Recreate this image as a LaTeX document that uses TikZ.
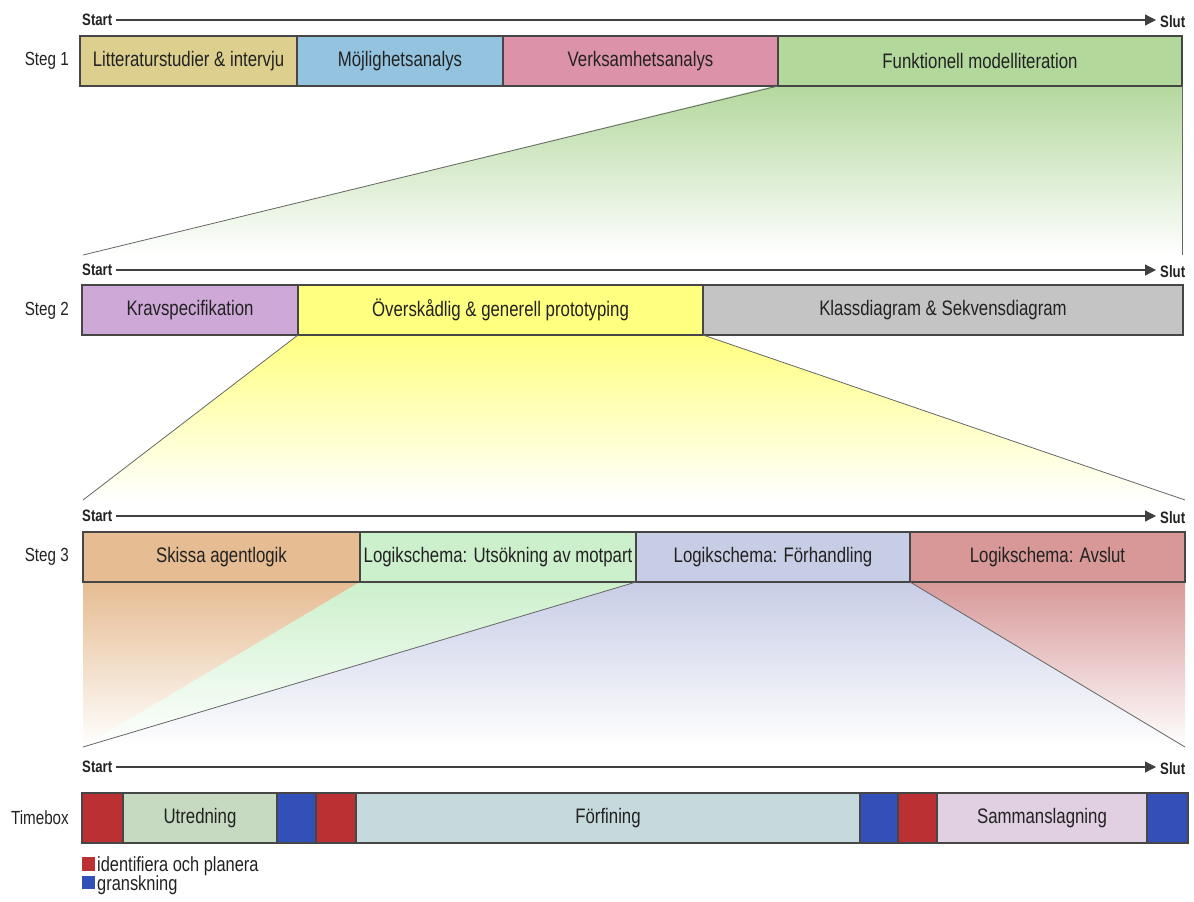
\documentclass[tikz,border=0pt]{standalone}
\usepackage{fontspec}
\setmainfont{Liberation Sans}[FakeStretch=0.8]
\usetikzlibrary{arrows.meta}
\definecolor{ctan}{RGB}{221,208,143}
\definecolor{cblue}{RGB}{147,195,222}
\definecolor{cpink}{RGB}{220,146,168}
\definecolor{cgreen}{RGB}{179,216,156}
\definecolor{cpurple}{RGB}{206,168,215}
\definecolor{cyellow}{RGB}{255,255,128}
\definecolor{cgray}{RGB}{196,196,196}
\definecolor{corange}{RGB}{230,188,146}
\definecolor{clgreen}{RGB}{204,240,204}
\definecolor{clav}{RGB}{200,205,230}
\definecolor{crose}{RGB}{216,152,152}
\definecolor{tbred}{RGB}{187,48,51}
\definecolor{tbblue}{RGB}{51,80,184}
\definecolor{cutr}{RGB}{198,218,194}
\definecolor{cforf}{RGB}{198,218,222}
\definecolor{csamm}{RGB}{224,208,226}
\definecolor{edge}{RGB}{70,70,70}
\definecolor{txt}{RGB}{34,34,34}
\begin{document}
\begin{tikzpicture}[x=1pt,y=-1pt,
  box/.style={draw=edge,line width=1.3pt,inner sep=0pt,outer sep=0pt,minimum height=50pt,anchor=west,text=txt,font=\fontsize{21}{24}\selectfont},
  steglbl/.style={anchor=east,inner sep=0pt,text=txt,font=\fontsize{19}{22}\selectfont},
  axlbl/.style={inner sep=0pt,text=txt,font=\fontsize{16.5}{18}\selectfont\bfseries},
  axis/.style={draw=black!75,line width=1.2pt,-{Triangle[length=11pt,width=11pt]}},
  funnel/.style={draw=black!60,line width=0.8pt},
  legtxt/.style={anchor=west,inner sep=0pt,text=txt,font=\fontsize{20.5}{22}\selectfont}
]
\useasboundingbox (0,0) rectangle (1194,902);

% ---------- funnels (drawn first) ----------
\coordinate (b1l) at (83,255);
\coordinate (b1r) at (1182,255);
\shade[top color=cgreen,bottom color=white] (778,85) -- (1182,85) -- (b1r) -- (b1l) -- cycle;
\coordinate (b2l) at (83,500);
\coordinate (b2r) at (1185,500);
\shade[top color=cyellow,bottom color=white] (298,335) -- (703,335) -- (b2r) -- (b2l) -- cycle;
\coordinate (b3l) at (83,747);
\coordinate (b3r) at (1185,747);
\shade[top color=corange,bottom color=white] (83,582) -- (360,582) -- (b3l) -- cycle;
\shade[top color=clgreen,bottom color=white] (360,582) -- (636,582) -- (b3l) -- cycle;
\shade[top color=clav,bottom color=white] (636,582) -- (910,582) -- (b3r) -- (b3l) -- cycle;
\shade[top color=crose,bottom color=white] (910,582) -- (1185,582) -- (b3r) -- cycle;

% ---------- axes ----------
\foreach \n/\y in {1/20,2/270,3/516,4/767}{
  \node[axlbl,anchor=west] (st\n) at (82,\y) {Start};
  \coordinate (ae\n) at (1156,\y);
  \node[axlbl,anchor=west] (sl\n) at (1160,\y+2) {Slut};
  \draw[axis] ([xshift=4pt]st\n.east) -- (ae\n);
}

% ---------- row 1 ----------
\node[steglbl] (lbl1) at (69,61) {Steg 1};
\node[box,fill=ctan,minimum width=217pt] (r1a) at (80,61) {Litteraturstudier \& intervju};
\node[box,fill=cblue,minimum width=206pt] (r1b) at (297,61) {Möjlighetsanalys};
\node[box,fill=cpink,minimum width=275pt] (r1c) at (503,61) {Verksamhetsanalys};
\node[box,fill=cgreen,minimum width=404pt] (r1d) at (778,61) {Funktionell modelliteration};
\draw[funnel] (r1d.south west) -- (b1l);
\draw[funnel] (r1d.south east) -- (b1r);

% ---------- row 2 ----------
\node[steglbl] (lbl2) at (69,311) {Steg 2};
\node[box,fill=cpurple,minimum width=216pt] (r2a) at (82,310) {Kravspecifikation};
\node[box,fill=cyellow,minimum width=405pt] (r2b) at (298,310) {Överskådlig \& generell prototyping};
\node[box,fill=cgray,minimum width=480pt] (r2c) at (703,310) {Klassdiagram \& Sekvensdiagram};
\draw[funnel] (r2b.south west) -- (b2l);
\draw[funnel] (r2b.south east) -- (b2r);

% ---------- row 3 ----------
\node[steglbl] (lbl3) at (69,557) {Steg 3};
\node[box,fill=corange,minimum width=277pt] (r3a) at (83,557) {Skissa agentlogik};
\node[box,fill=clgreen,minimum width=276pt] (r3b) at (360,557) {Logikschema: Utsökning av motpart};
\node[box,fill=clav,minimum width=274pt] (r3c) at (636,557) {Logikschema: Förhandling};
\node[box,fill=crose,minimum width=275pt] (r3d) at (910,557) {Logikschema: Avslut};
\draw[funnel] (r3c.south west) -- (b3l);
\draw[funnel] (r3c.south east) -- (b3r);

% ---------- timebox ----------
\node[steglbl] (lbl4) at (69,818) {Timebox};
\node[box,fill=tbred,minimum width=41pt] (t1) at (82,818) {};
\node[box,fill=cutr,minimum width=154pt] (t2) at (123,818) {Utredning};
\node[box,fill=tbblue,minimum width=39pt] (t3) at (277,818) {};
\node[box,fill=tbred,minimum width=40pt] (t4) at (316,818) {};
\node[box,fill=cforf,minimum width=504pt] (t5) at (356,818) {Förfining};
\node[box,fill=tbblue,minimum width=38pt] (t6) at (860,818) {};
\node[box,fill=tbred,minimum width=39pt] (t7) at (898,818) {};
\node[box,fill=csamm,minimum width=210pt] (t8) at (937,818) {Sammanslagning};
\node[box,fill=tbblue,minimum width=41pt] (t9) at (1147,818) {};

% ---------- legend ----------
\fill[tbred] (82,857) rectangle (95,871);
\node[legtxt] (lg1) at (97,866) {identifiera och planera};
\fill[tbblue] (82,876) rectangle (95,889);
\node[legtxt] (lg2) at (97,885) {granskning};
\end{tikzpicture}
\end{document}
